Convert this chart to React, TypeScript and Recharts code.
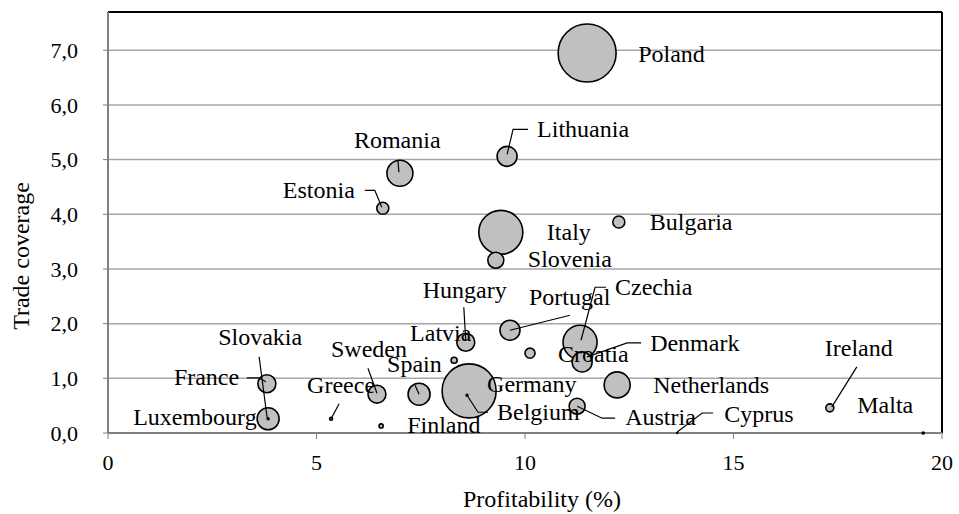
import React from 'react';
import {
  ScatterChart,
  Scatter,
  XAxis,
  YAxis,
  ZAxis,
  CartesianGrid,
  ReferenceLine,
} from 'recharts';

// Values
const countries = [
  'Poland', 'Lithuania', 'Romania', 'Estonia', 'Italy', 'Bulgaria', 'Slovenia',
  'Hungary', 'Portugal', 'Czechia', 'Latvia', 'Croatia', 'Denmark', 'Slovakia',
  'France', 'Luxembourg', 'Greece', 'Sweden', 'Spain', 'Germany', 'Belgium',
  'Finland', 'Netherlands', 'Austria', 'Cyprus', 'Ireland', 'Malta',
];
const profitability = [
  11.49, 9.57, 7.0, 6.59, 9.42, 12.25, 9.3,
  8.58, 9.64, 11.32, 8.3, 10.12, 11.37, 3.84,
  3.81, 3.84, 5.35, 6.45, 7.46, 8.66, 8.61,
  6.55, 12.21, 11.25, 13.65, 17.31, 19.55,
];
const tradeCoverage = [
  6.95, 5.06, 4.75, 4.11, 3.67, 3.86, 3.16,
  1.66, 1.88, 1.66, 1.33, 1.46, 1.3, 0.26,
  0.9, 0.26, 0.26, 0.71, 0.71, 0.77, 0.69,
  0.13, 0.88, 0.49, 0.0, 0.46, 0.0,
];
// bubble weight (relative, Poland = 100)
const bubbleWeight = [
  100, 11.9, 20.1, 4.3, 57.6, 4.3, 7.6,
  9.6, 11.9, 34.4, 1.1, 3.0, 11.9, 0.1,
  9.6, 14.4, 0.27, 9.6, 14.4, 86.7, 0.1,
  0.5, 20.1, 7.6, 0.03, 1.9, 0.12,
];
const xTicks = [0, 5, 10, 15, 20];
const yTicks = [0, 1, 2, 3, 4, 5, 6, 7];

// label placement relative to the bubble centre (px), with optional leader line
type Pt = [number, number];
const labelLayout: Record<string, { dx: number; dy: number; leader?: Pt[] }> = {
  Poland: { dx: 51, dy: 9 },
  Lithuania: { dx: 30, dy: -19, leader: [[0, -2], [6, -27], [21, -27]] },
  Romania: { dx: -46, dy: -25, leader: [[-2, -13], [-1, -1]] },
  Estonia: { dx: -100, dy: -10, leader: [[-18, -18], [-8, -18], [-1, -1]] },
  Italy: { dx: 46, dy: 8 },
  Bulgaria: { dx: 31, dy: 8 },
  Slovenia: { dx: 32, dy: 7 },
  Hungary: { dx: -43, dy: -44, leader: [[-2, -35], [0, -2]] },
  Portugal: { dx: 19, dy: -25, leader: [[60, -15], [0, 0]] },
  Czechia: { dx: 35, dy: -47, leader: [[1, -2], [15, -55], [26, -55]] },
  Latvia: { dx: -44, dy: -19 },
  Croatia: { dx: 28, dy: 9 },
  Denmark: { dx: 68, dy: -11, leader: [[5, -5], [45, -19], [59, -19]] },
  Slovakia: { dx: -50, dy: -74, leader: [[-9, -62], [-1, -1]] },
  France: { dx: -93, dy: 1, leader: [[-20, -6], [-8, -6], [-1, -2]] },
  Luxembourg: { dx: -135, dy: 6 },
  Greece: { dx: -24, dy: -26, leader: [[8, -15], [0, 0]] },
  Sweden: { dx: -46, dy: -37, leader: [[-9, -26], [0, -1]] },
  Spain: { dx: -32, dy: -22, leader: [[-4, -9], [0, 0]] },
  Germany: { dx: 18, dy: 1 },
  Belgium: { dx: 30, dy: 25, leader: [[0, 0], [11, 17], [21, 17]] },
  Finland: { dx: 26, dy: 7 },
  Netherlands: { dx: 36, dy: 8 },
  Austria: { dx: 48, dy: 19, leader: [[0, 0], [25, 12], [38, 12]] },
  Cyprus: { dx: 47, dy: -11, leader: [[0, -1], [25, -20], [36, -20]] },
  Ireland: { dx: -5, dy: -52, leader: [[27, -41], [2, -1]] },
  Malta: { dx: -66, dy: -20 },
};

const SERIF = "'Liberation Serif', 'Times New Roman', serif";

const rows = countries.map((name, i) => ({
  name,
  x: profitability[i],
  y: tradeCoverage[i],
  w: bubbleWeight[i],
}));
// big bubbles first so the small ones sit on top
const bubbleRows = [...rows].sort((a, b) => b.w - a.w);

function CountryLabel(props: any) {
  const { cx, cy, payload } = props;
  const lay = labelLayout[payload?.name];
  if (!lay || cx == null || cy == null) return <g />;
  return (
    <g>
      {lay.leader && (
        <polyline
          points={lay.leader.map(([a, b]) => `${cx + a},${cy + b}`).join(' ')}
          fill="none"
          stroke="#000"
          strokeWidth={1.2}
        />
      )}
      <text x={cx + lay.dx} y={cy + lay.dy} fontSize={24} fontFamily={SERIF} fill="#000">
        {payload.name}
      </text>
    </g>
  );
}

const fmtComma = (v: number) => v.toFixed(1).replace('.', ',');

export default function App() {
  return (
    <div style={{ position: 'absolute', left: 0, top: 0, background: '#fff' }}>
      <ScatterChart width={959} height={514} margin={{ top: 12, right: 17, bottom: 0, left: 0 }}>
        <CartesianGrid horizontal vertical={false} stroke="#a6a6a6" strokeWidth={1.5} />
        <XAxis
          type="number"
          dataKey="x"
          domain={[0, 20]}
          ticks={xTicks}
          height={81}
          axisLine={{ stroke: '#808080', strokeWidth: 2 }}
          tickLine={{ stroke: '#808080' }}
          tickSize={6}
          tickMargin={15}
          tick={{ fontSize: 22, fontFamily: SERIF, fill: '#000' }}
          label={{
            content: () => (
              <text x={542} y={507} textAnchor="middle" fontSize={24} fontFamily={SERIF} fill="#000">
                Profitability (%)
              </text>
            ),
          }}
        />
        <YAxis
          type="number"
          dataKey="y"
          domain={[0, 7.7]}
          ticks={yTicks}
          width={108}
          axisLine={{ stroke: '#808080', strokeWidth: 2 }}
          tickLine={{ stroke: '#808080' }}
          tickSize={5}
          tickMargin={25}
          tickFormatter={fmtComma}
          tick={{ fontSize: 22, fontFamily: SERIF, fill: '#000' }}
          label={{
            content: () => (
              <text
                x={29}
                y={256}
                transform="rotate(-90, 29, 256)"
                textAnchor="middle"
                fontSize={24}
                fontFamily={SERIF}
                fill="#000"
              >
                Trade coverage
              </text>
            ),
          }}
        />
        <ZAxis type="number" dataKey="w" domain={[0, 100]} range={[0, Math.PI * 29 * 29]} />
        <ReferenceLine y={7.7} stroke="#000" strokeWidth={2} />
        <ReferenceLine x={20} stroke="#000" strokeWidth={2} />
        <Scatter
          data={bubbleRows}
          fill="#c0c0c0"
          stroke="#000"
          strokeWidth={1.6}
          isAnimationActive={false}
        />
        <Scatter data={rows} shape={CountryLabel} isAnimationActive={false} />
      </ScatterChart>
    </div>
  );
}
